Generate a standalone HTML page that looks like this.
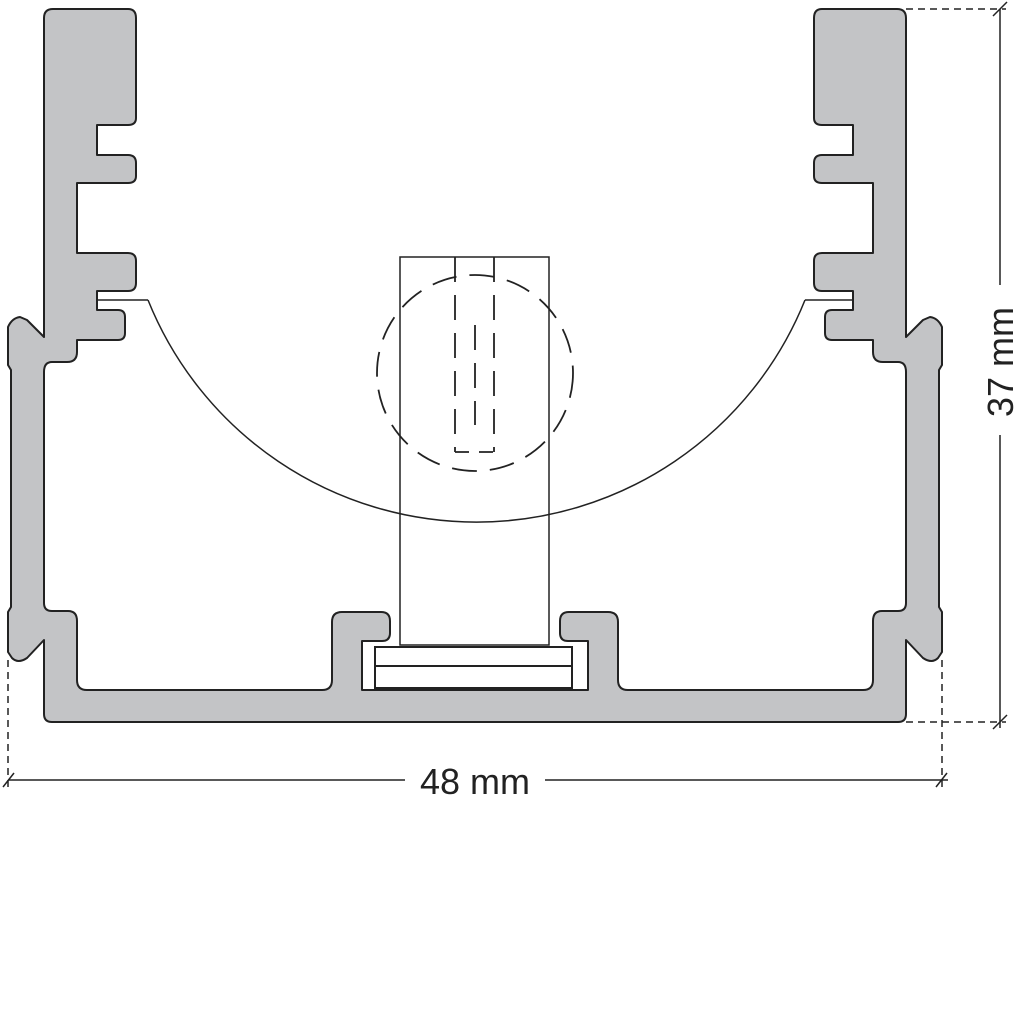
<!DOCTYPE html>
<html><head><meta charset="utf-8"><style>html,body{margin:0;padding:0;background:#fff}svg{display:block}</style></head>
<body>
<svg width="1024" height="1024" viewBox="0 0 1024 1024" xmlns="http://www.w3.org/2000/svg">
<defs>
<path id="half" d="M44,18 Q44,9 53,9 L128,9 Q136,9 136,18 L136,118 Q136,125 128,125 L97,125 L97,155 L128,155 Q136,155 136,163 L136,176 Q136,183 128,183 L77,183 L77,253 L128,253 Q136,253 136,261 L136,283 Q136,291 128,291 L97,291 L97,310 L118,310 Q125,310 125,317 L125,333 Q125,340 118,340 L77,340 L77,352 Q77,362 67,362 L52,362 Q44,362 44,372 L44,603 Q44,611 52,611 L68,611 Q77,611 77,621 L77,680 Q77,690 87,690 L322,690 Q332,690 332,680 L332,622 Q332,612 342,612 L381,612 Q390,612 390,621 L390,633 Q390,641 382,641 L362,641 L362,690 L475,690 L475,722 L52,722 Q44,722 44,714 L44,640 L27,658 Q18,664 12,658 L8,652 L8,612 L11,607 L11,370 L8,365 L8,327 Q12,318 20,317 L27,320 L44,337 Z"/>
</defs>
<g fill="#c3c4c6" stroke="#222" stroke-width="2" stroke-linejoin="round">
<use href="#half"/>
<use href="#half" transform="translate(950,0) scale(-1,1)"/>
</g>
<rect x="470" y="691" width="10" height="30" fill="#c3c4c6"/>
<g fill="none" stroke="#222" stroke-width="1.5">
<line x1="97" y1="300" x2="148" y2="300"/>
<line x1="853" y1="300" x2="805" y2="300"/>
<path d="M148,300 A354,354 0 0 0 805,300"/>
<rect x="400" y="257" width="149" height="388"/>
<rect x="375" y="647" width="197" height="41" stroke-width="2"/>
<line x1="375" y1="666" x2="572" y2="666" stroke-width="2"/>
</g>
<g fill="none" stroke="#222" stroke-width="1.8" stroke-dasharray="25,13">
<circle cx="475" cy="373" r="98"/>
<line x1="455" y1="257" x2="455" y2="452"/>
<line x1="494" y1="257" x2="494" y2="452"/>
<line x1="475" y1="325" x2="475" y2="425"/>
<line x1="455" y1="452" x2="494" y2="452" stroke-dasharray="14,10"/>
</g>
<g stroke="#222" stroke-width="1.5" fill="none">
<line x1="8" y1="780" x2="405" y2="780"/>
<line x1="545" y1="780" x2="948" y2="780"/>
<line x1="1000" y1="9" x2="1000" y2="285"/>
<line x1="1000" y1="435" x2="1000" y2="728"/>
<line x1="3" y1="787" x2="14" y2="773"/>
<line x1="936" y1="787" x2="947" y2="773"/>
<line x1="993" y1="16" x2="1007" y2="2"/>
<line x1="993" y1="729" x2="1007" y2="715"/>
</g>
<g stroke="#222" stroke-width="1.5" stroke-dasharray="7,5" fill="none">
<line x1="8" y1="660" x2="8" y2="792"/>
<line x1="942" y1="660" x2="942" y2="792"/>
<line x1="906" y1="9" x2="1006" y2="9"/>
<line x1="906" y1="722" x2="1006" y2="722"/>
</g>
<text x="475" y="794" font-family="Liberation Sans, sans-serif" font-size="36" text-anchor="middle" fill="#222">48 mm</text>
<text transform="translate(1013,362) rotate(-90)" font-family="Liberation Sans, sans-serif" font-size="36" text-anchor="middle" fill="#222">37 mm</text>
</svg>
</body></html>
